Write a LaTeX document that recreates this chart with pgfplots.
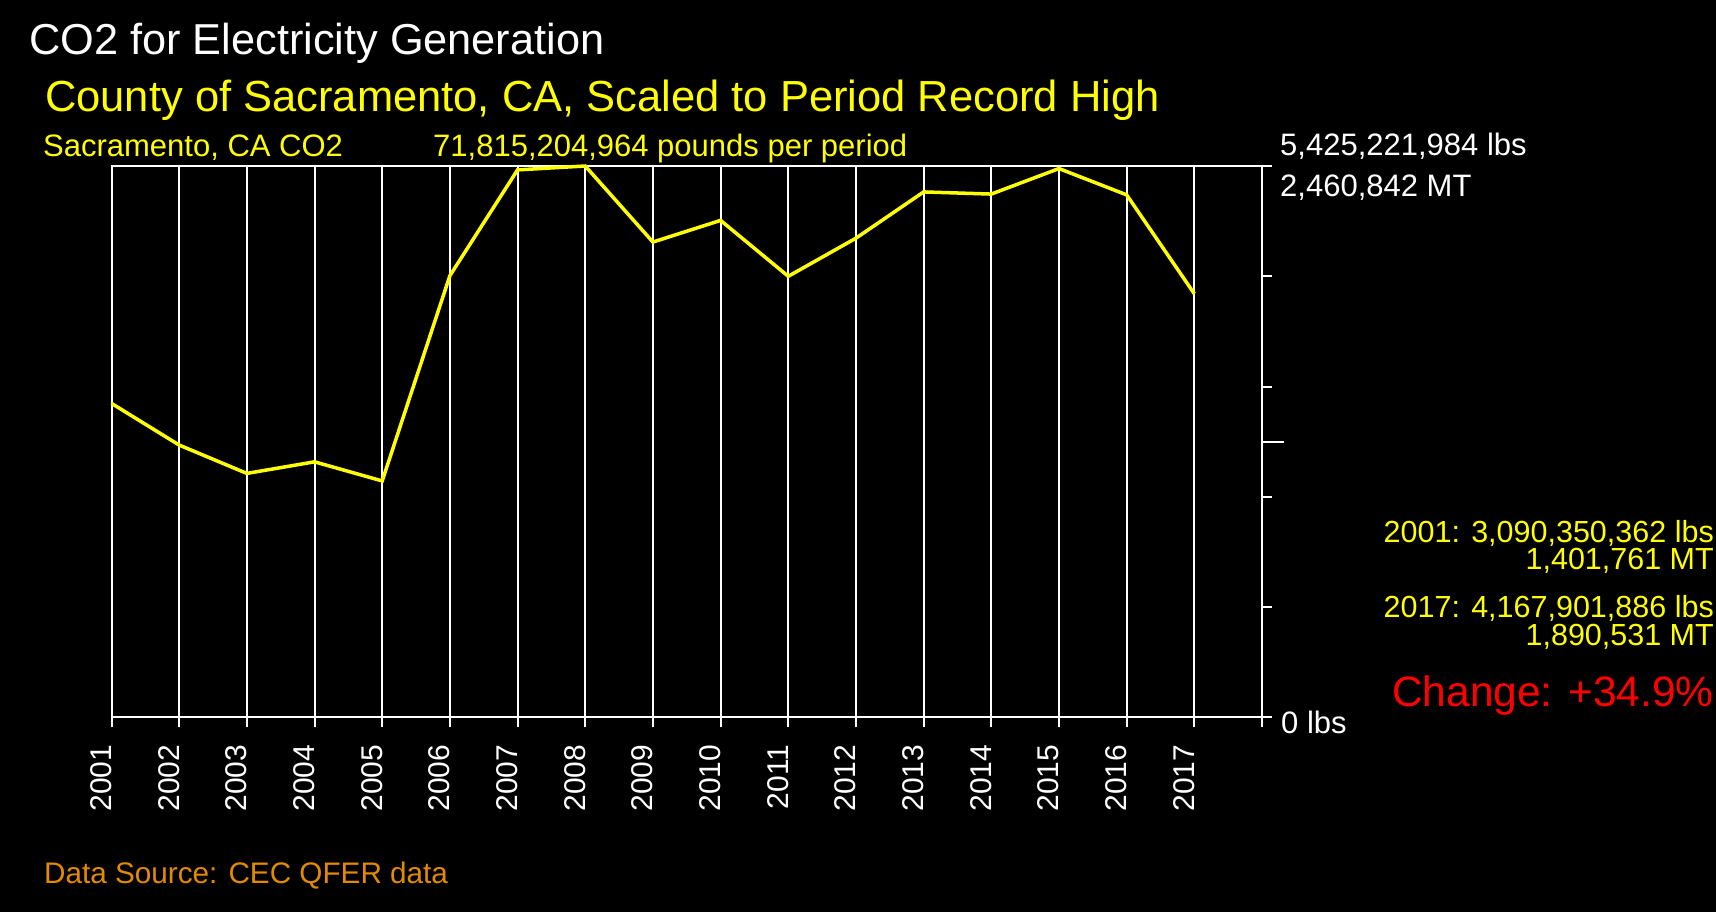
\documentclass[border=0pt]{standalone}
\usepackage{fontspec}
\setmainfont{Liberation Sans}
\usepackage{pgfplots}
\pgfplotsset{compat=1.18}
\definecolor{cyel}{RGB}{255,255,0}
\definecolor{cred}{RGB}{255,0,0}
\definecolor{corange}{RGB}{226,138,0}
\newcommand{\fs}[1]{\fontsize{#1bp}{#1bp}\selectfont}
\begin{document}
\begin{tikzpicture}[x=1bp,y=1bp]
\fill[black] (0,0) rectangle (1716,912);
\useasboundingbox (0,0) rectangle (1716,912);
\begin{axis}[
  at={(111.5bp,194.5bp)}, anchor=south west, scale only axis,
  width=1150.5bp, height=551.5bp,
  xmin=0, xmax=17, ymin=0, ymax=5.425221984,
  clip=false,
  axis line style={white, line width=2bp},
  tick align=outside,
  xtick pos=bottom, ytick pos=right,
  major tick length=10bp,
  tick style={white, line width=2bp},
  xtick={0,1,2,3,4,5,6,7,8,9,10,11,12,13,14,15,16,17},
  xticklabels={2001,2002,2003,2004,2005,2006,2007,2008,2009,2010,2011,2012,2013,2014,2015,2016,2017,{}},
  xticklabel style={rotate=90, anchor=base east, inner sep=0pt, font=\fs{30}, text=white},
  xticklabel shift=17bp,
  xmajorgrids,
  major grid style={white, line width=2bp},
  ytick={0,1.085044,2.170089,3.255133,4.340178,5.425222},
  yticklabel={},
  extra y ticks={2.712611},
  extra y tick labels={},
  extra y tick style={major tick length=22bp, tick style={white, line width=2bp}},
]
\addplot[cyel, line width=3.5bp] coordinates {
(0,3.090) (1,2.680) (2,2.401) (3,2.515) (4,2.327) (5,4.346) (6,5.387) (7,5.425)
(8,4.677) (9,4.890) (10,4.340) (11,4.715) (12,5.170) (13,5.149) (14,5.400) (15,5.141) (16,4.168)
};
\end{axis}
\node[anchor=base west, inner sep=0pt, text=white, font=\fs{43.3}] at (29,857) {CO2 for Electricity Generation};
\node[anchor=base west, inner sep=0pt, text=cyel, font=\fs{43.5}] at (45,800.3) {County of Sacramento, CA, Scaled to Period Record High};
\node[anchor=base west, inner sep=0pt, text=cyel, font=\fs{31}] at (43,755.3) {Sacramento, CA CO2};
\node[anchor=base west, inner sep=0pt, text=cyel, font=\fs{31}] at (433,755.3) {71,815,204,964 pounds per period};
\node[anchor=base west, inner sep=0pt, text=white, font=\fs{31}] at (1280,756.3) {5,425,221,984 lbs};
\node[anchor=base west, inner sep=0pt, text=white, font=\fs{31}] at (1280,715.3) {2,460,842 MT};
\node[anchor=base west, inner sep=0pt, text=white, font=\fs{31}] at (1281,178) {0 lbs};
\node[anchor=base east, inner sep=0pt, text=cyel, font=\fs{30.5}] at (1714,369.7) {2001: 3,090,350,362 lbs};
\node[anchor=base east, inner sep=0pt, text=cyel, font=\fs{30.5}] at (1714,342) {1,401,761 MT};
\node[anchor=base east, inner sep=0pt, text=cyel, font=\fs{30.5}] at (1714,294.7) {2017: 4,167,901,886 lbs};
\node[anchor=base east, inner sep=0pt, text=cyel, font=\fs{30.5}] at (1714,266.3) {1,890,531 MT};
\node[anchor=base east, inner sep=0pt, text=cred, font=\fs{42.5}] at (1714,205) {Change: +34.9\%};
\node[anchor=base west, inner sep=0pt, text=corange, font=\fs{29.7}] at (44,28.7) {Data Source: CEC QFER data};
\end{tikzpicture}
\end{document}
